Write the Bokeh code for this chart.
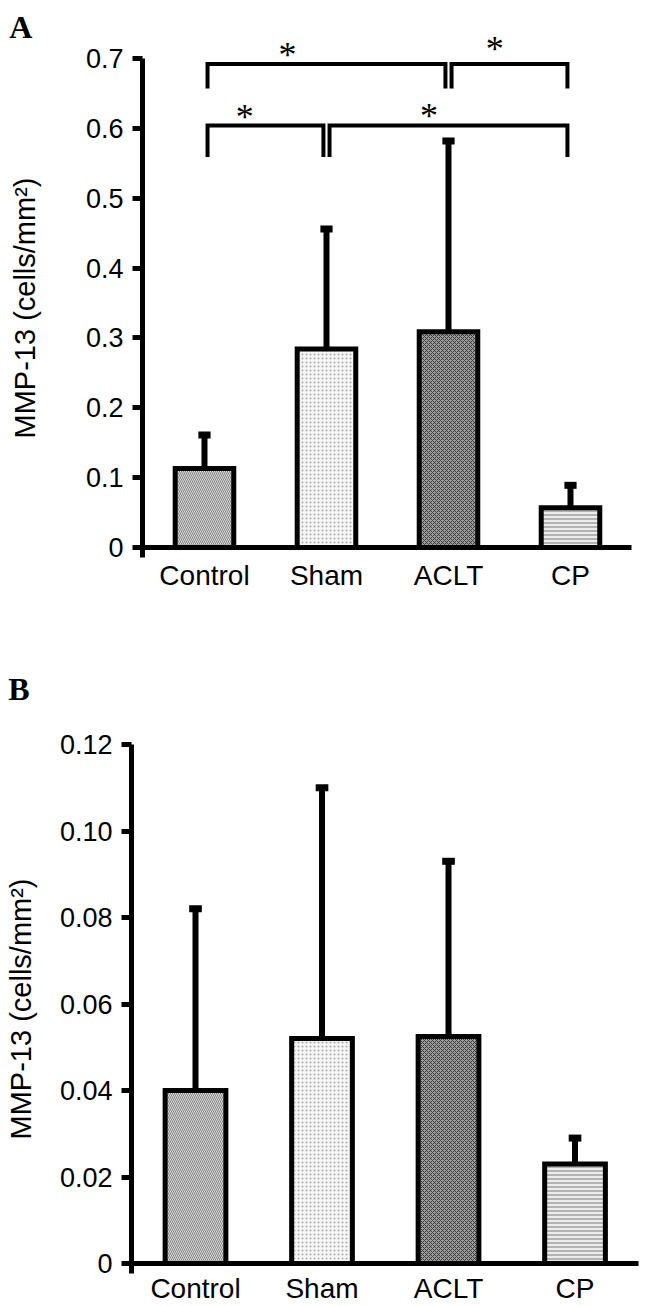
from bokeh.plotting import figure
from bokeh.models import Range1d, FixedTicker, Label, ColumnDataSource
from bokeh.layouts import column
from bokeh.core.properties import value
from bokeh.embed import file_html
from bokeh.resources import INLINE

# ---------------- data ----------------
categories = ["Control", "Sham", "ACLT", "CP"]

a_mean = [0.113, 0.284, 0.309, 0.057]
a_err = [0.048, 0.172, 0.273, 0.032]

b_mean = [0.040, 0.052, 0.0525, 0.023]
b_err = [0.042, 0.058, 0.0405, 0.006]

a_ticks = [0, 0.1, 0.2, 0.3, 0.4, 0.5, 0.6, 0.7]
a_tick_labels = ["0", "0.1", "0.2", "0.3", "0.4", "0.5", "0.6", "0.7"]
b_ticks = [0, 0.02, 0.04, 0.06, 0.08, 0.10, 0.12]
b_tick_labels = ["0", "0.02", "0.04", "0.06", "0.08", "0.10", "0.12"]

y_label = "MMP-13 (cells/mm\u00b2)"

# significance brackets (panel A): group pairs, bracket level, leg bottom
sig_from = [0, 2, 0, 1]
sig_to = [2, 3, 1, 3]
sig_level = [0.692, 0.692, 0.604, 0.604]
sig_leg = [0.657, 0.657, 0.559, 0.559]
sig_star_x = [0.68, 2.38, 0.33, 1.84]
sig_star_y = [0.716, 0.725, 0.627, 0.629]

# ---------------- styles ----------------
bar_fill = ["#dedede", "#f7f7f7", "#9c9c9c", "#ececec"]
bar_hatch = ["\\", ".", "x", "-"]
bar_hatch_color = ["#808080", "#a8a8a8", "#3a3a3a", "#7a7a7a"]
FONT = "Liberation Sans"
SERIF = "Liberation Serif"


def make_panel(mean, err, ticks, tick_labels, xr, yr, xb, yb, height,
               label_standoff, xlab_standoff, letter, letter_xy):
    xs = list(range(len(categories)))
    p = figure(width=646, height=height, output_backend="svg",
               toolbar_location=None, tools="",
               x_range=Range1d(*xr), y_range=Range1d(*yr),
               min_border=0, min_border_top=0, min_border_left=0,
               min_border_right=0, min_border_bottom=0)
    p.outline_line_color = None
    p.xgrid.visible = False
    p.ygrid.visible = False
    p.background_fill_color = "white"
    p.border_fill_color = "white"

    src = ColumnDataSource(dict(
        x=xs, top=mean, fill=bar_fill, hatch=bar_hatch, hcol=bar_hatch_color,
        etop=[m + e for m, e in zip(mean, err)],
        cl=[x - 0.05 for x in xs], cr=[x + 0.05 for x in xs]))

    # error bars (upper only)
    p.segment(x0="x", y0="top", x1="x", y1="etop", source=src,
              line_color="black", line_width=6)
    p.segment(x0="cl", y0="etop", x1="cr", y1="etop", source=src,
              line_color="black", line_width=7)

    p.vbar(x="x", top="top", bottom=0, width=0.48, source=src,
           fill_color="fill", hatch_pattern="hatch", hatch_color="hcol",
           hatch_scale=4, hatch_weight=1,
           line_color="black", line_width=5, line_join="miter")

    # y axis (drawn at the left end of the x bounds)
    ya = p.yaxis[0]
    ya.fixed_location = xb[0]
    ya.ticker = FixedTicker(ticks=ticks)
    ya.major_label_overrides = {t: l for t, l in zip(ticks, tick_labels)}
    ya.bounds = yb
    ya.axis_line_width = 5
    ya.axis_line_color = "black"
    ya.major_tick_line_width = 5
    ya.major_tick_line_color = "black"
    ya.major_tick_out = 10
    ya.major_tick_in = 0
    ya.minor_tick_line_color = None
    ya.major_label_standoff = 9
    ya.major_label_text_font = FONT
    ya.major_label_text_font_size = "27px"
    ya.major_label_text_color = "black"
    ya.axis_label = y_label
    ya.axis_label_text_font = FONT
    ya.axis_label_text_font_size = "29px"
    ya.axis_label_text_font_style = "normal"
    ya.axis_label_text_color = "black"
    ya.axis_label_standoff = label_standoff

    # x axis (baseline at zero)
    xa = p.xaxis[0]
    xa.fixed_location = 0
    xa.bounds = xb
    xa.ticker = FixedTicker(ticks=xs)
    xa.major_label_overrides = {i: c for i, c in enumerate(categories)}
    xa.axis_line_width = 5
    xa.axis_line_color = "black"
    xa.major_tick_line_color = None
    xa.major_tick_out = 0
    xa.major_tick_in = 0
    xa.minor_tick_line_color = None
    xa.major_label_standoff = xlab_standoff
    xa.major_label_text_font = FONT
    xa.major_label_text_font_size = "28px"
    xa.major_label_text_color = "black"

    p.add_layout(Label(x=letter_xy[0], y=letter_xy[1], text=letter,
                       text_font=SERIF, text_font_style="bold",
                       text_font_size="32px", text_color="black",
                       text_align="left", text_baseline="alphabetic"))
    return p


pA = make_panel(a_mean, a_err, a_ticks, a_tick_labels,
                (-1.672, 3.623), (-0.1446, 0.783), (-0.508, 3.5),
                (-0.014, 0.7), 648, 42, 13, "A", (-1.60, 0.745))

# brackets + asterisks for panel A
bx, by = [], []
for i, j, lv, lg in zip(sig_from, sig_to, sig_level, sig_leg):
    x0 = i + 0.025
    x1 = j - 0.025
    bx.append([x0, x0, x1, x1])
    by.append([lg, lv, lv, lg])
pA.multi_line(xs=bx, ys=by, line_color="black", line_width=4,
              line_join="miter")
pA.text(x=sig_star_x, y=sig_star_y, text=["*"] * len(sig_star_x),
        text_font=value(SERIF), text_font_size="36px", text_color="black",
        text_align="center", text_baseline="alphabetic", y_offset=8)

pB = make_panel(b_mean, b_err, b_ticks, b_tick_labels,
                (-1.5415, 3.565), (-0.00994, 0.1422), (-0.506, 3.5),
                (-0.0023, 0.12), 658, 20, 9, "B", (-1.48, 0.1328))

layout = column(pA, pB)
open("out.html", "w").write(file_html(layout, INLINE))
